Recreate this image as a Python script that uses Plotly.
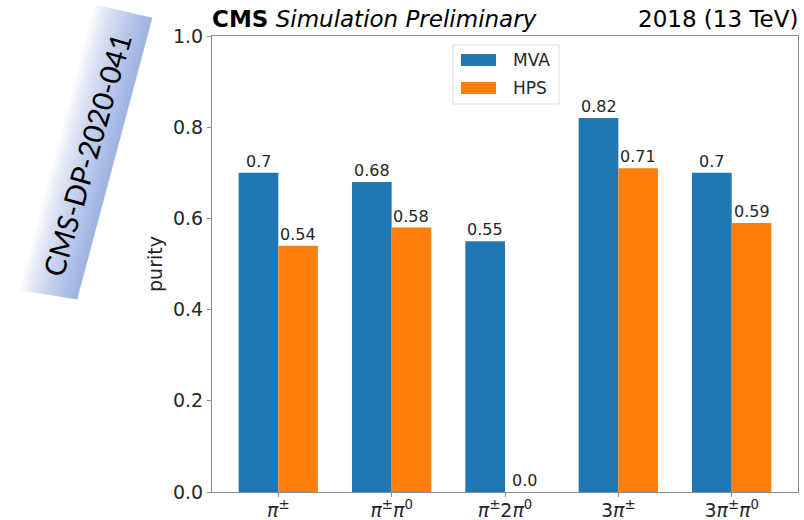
import plotly.graph_objects as go

categories = ["<i>π</i><sup>±</sup>", "<i>π</i><sup>±</sup><i>π</i><sup>0</sup>",
              "<i>π</i><sup>±</sup>2<i>π</i><sup>0</sup>", "3<i>π</i><sup>±</sup>",
              "3<i>π</i><sup>±</sup><i>π</i><sup>0</sup>"]
mva = [0.70, 0.68, 0.55, 0.82, 0.70]
hps = [0.54, 0.58, 0.00, 0.71, 0.59]
mva_labels = ["0.7", "0.68", "0.55", "0.82", "0.7"]
hps_labels = ["0.54", "0.58", "0.0", "0.71", "0.59"]
series_names = ["MVA", "HPS"]
colors = ["#1f77b4", "#ff7f0e"]
y_ticks = [0.0, 0.2, 0.4, 0.6, 0.8, 1.0]

OFF = 0  # body margin removed via post_script
W, H = 804 - OFF, 520 - OFF
L, T = 212 - OFF, 36 - OFF
R = W - (798 - OFF)
B = H - (492 - OFF)
PW, PH = W - L - R, H - T - B
FONT = "DejaVu Sans"
TXT = "#262626"
bw = 0.35
xs = list(range(len(categories)))


def px(xpix):  # reference-image pixel -> paper fraction
    return (xpix - OFF - L) / PW


def py(ypix):
    return (H - B - (ypix - OFF)) / PH


fig = go.Figure()
fig.add_trace(go.Bar(x=xs, y=mva, width=bw, offset=-bw, marker_color=colors[0],
                     marker_line_width=0, name=series_names[0], showlegend=False))
fig.add_trace(go.Bar(x=xs, y=hps, width=bw, offset=0, marker_color=colors[1],
                     marker_line_width=0, name=series_names[1], showlegend=False))

ann = []
for i in xs:
    ann.append(dict(x=i - bw / 2, y=mva[i], text=mva_labels[i], xref="x", yref="y",
                    showarrow=False, xanchor="center", yanchor="bottom",
                    font=dict(family=FONT, size=16, color=TXT)))
    ann.append(dict(x=i + bw / 2, y=hps[i], text=hps_labels[i], xref="x", yref="y",
                    showarrow=False, xanchor="center", yanchor="bottom",
                    font=dict(family=FONT, size=16, color=TXT)))

# header texts
ann.append(dict(x=px(210), y=py(34), xref="paper", yref="paper", xanchor="left", yanchor="bottom",
                text="<b>CMS</b> <i>Simulation Preliminary</i>", showarrow=False,
                font=dict(family=FONT, size=23, color="black")))
ann.append(dict(x=px(800), y=py(34), xref="paper", yref="paper", xanchor="right", yanchor="bottom",
                text="2018 (13 TeV)", showarrow=False,
                font=dict(family=FONT, size=23, color="black")))

# manual legend
shapes = [dict(type="rect", xref="paper", yref="paper",
               x0=px(453), x1=px(559), y0=py(104), y1=py(45),
               line=dict(color="#dddddd", width=1), fillcolor="white", layer="above")]
for k, (nm, c) in enumerate(zip(series_names, colors)):
    yc = 60 + 28 * k
    shapes.append(dict(type="rect", xref="paper", yref="paper",
                       x0=px(461), x1=px(496), y0=py(yc + 6), y1=py(yc - 6),
                       line=dict(width=0), fillcolor=c, layer="above"))
    ann.append(dict(x=px(511), y=py(yc), xref="paper", yref="paper", xanchor="left",
                    yanchor="middle", text=nm, showarrow=False,
                    font=dict(family=FONT, size=17, color=TXT)))

# badge: gradient built from thin strips
TL, TR, BR, BL = (95, 5), (152, 18), (77, 299), (20, 290)
c0, c1 = (255, 255, 255), (155, 177, 225)
N = 40


def lerp(p, q, t):
    return (p[0] + (q[0] - p[0]) * t, p[1] + (q[1] - p[1]) * t)


for k in range(N):
    t0, t1 = k / N, (k + 1) / N
    a, b = lerp(TL, TR, t0), lerp(TL, TR, t1)
    d, e = lerp(BL, BR, t0), lerp(BL, BR, t1)
    tm = ((t0 + t1) / 2) ** 0.75
    col = "rgb(%d,%d,%d)" % tuple(round(c0[j] + (c1[j] - c0[j]) * tm) for j in range(3))
    path = "M %f %f L %f %f L %f %f L %f %f Z" % (px(a[0]), py(a[1]), px(b[0]), py(b[1]),
                                                 px(e[0]), py(e[1]), px(d[0]), py(d[1]))
    shapes.append(dict(type="path", xref="paper", yref="paper", path=path,
                       fillcolor=col, line=dict(color=col, width=0.6), layer="below"))
ann.append(dict(x=px(86), y=py(155), xref="paper", yref="paper", text="CMS-DP-2020-041",
                textangle=-74, showarrow=False, xanchor="center", yanchor="middle",
                font=dict(family="Lato", size=29, color="black")))

fig.update_layout(
    width=W, height=H, margin=dict(l=L, r=R, t=T, b=B, pad=0), autosize=False,
    paper_bgcolor="white", plot_bgcolor="white", barmode="overlay",
    annotations=ann, shapes=shapes, showlegend=False,
    xaxis=dict(range=[-0.585, 4.585], tickvals=xs, ticktext=categories, automargin=False,
               showgrid=False, zeroline=False, showline=True, linecolor="#8a8a8a", linewidth=1,
               mirror=True, ticks="outside", ticklen=4, tickcolor="#8a8a8a",
               ticklabelstandoff=-3,
               tickfont=dict(family=FONT, size=19, color=TXT)),
    yaxis=dict(range=[0, 1], tickvals=y_ticks, automargin=False,
               tickformat=".1f", showgrid=False, zeroline=False, showline=True,
               linecolor="#8a8a8a", linewidth=1, mirror=True, ticks="outside", ticklen=4,
               tickcolor="#8a8a8a", tickfont=dict(family=FONT, size=19, color=TXT),
               title=dict(text="purity", font=dict(family=FONT, size=19, color=TXT), standoff=5)),
)

fig.write_html("out.html", config=dict(displayModeBar=False),
               post_script="document.body.style.margin='0px';")
